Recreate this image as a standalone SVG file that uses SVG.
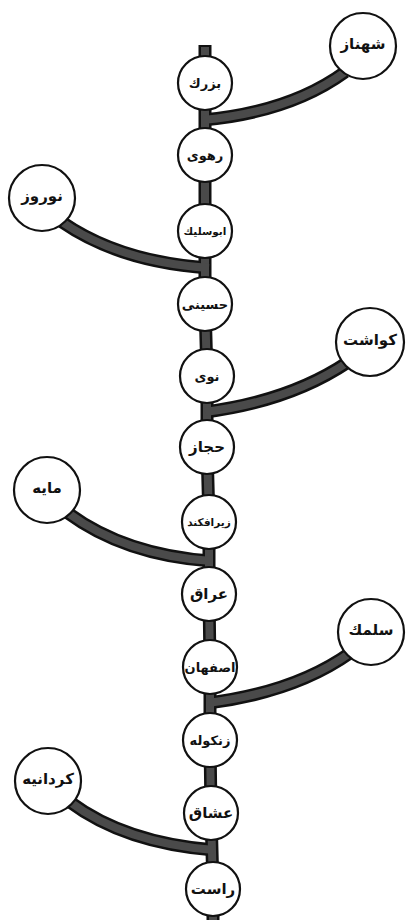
<svg xmlns="http://www.w3.org/2000/svg" width="406" height="920" viewBox="0 0 406 920">
<style>
.n{fill:#fff;stroke:#111;stroke-width:2.2}
.t{font-family:"DejaVu Sans","Noto Sans",sans-serif;font-weight:bold;fill:#111;text-anchor:middle;dominant-baseline:central}
.s{font-size:13px}
.xs{font-size:10.5px}
.l{font-size:15px}
.c{fill:none;stroke:#111;stroke-width:13;stroke-linecap:butt}
.ci{fill:none;stroke:#4a4a4a;stroke-width:8;stroke-linecap:butt}
</style>
<rect width="406" height="920" fill="#fff"/>
<g id="connectors">
<path class="c" d="M205,45 L205,304 L207,376 L207,447 L209,522 L209,594 L210,667 L210,740 L211,813 L213,889 L213,920"/>
<path class="c" d="M203,120 Q290,112 345,72"/>
<path class="c" d="M62,222 Q120,262 209,268"/>
<path class="c" d="M205,412 Q290,401 348,362"/>
<path class="c" d="M68,513 Q125,555 211,561"/>
<path class="c" d="M208,703 Q295,692 350,653"/>
<path class="c" d="M70,802 Q125,843 214,850"/>
<path class="ci" d="M205,47 L205,304 L207,376 L207,447 L209,522 L209,594 L210,667 L210,740 L211,813 L213,889 L213,920"/>
<path class="ci" d="M203,120 Q290,112 345,72"/>
<path class="ci" d="M62,222 Q120,262 209,268"/>
<path class="ci" d="M205,412 Q290,401 348,362"/>
<path class="ci" d="M68,513 Q125,555 211,561"/>
<path class="ci" d="M208,703 Q295,692 350,653"/>
<path class="ci" d="M70,802 Q125,843 214,850"/>
</g>
<g id="bozorg"><circle class="n" cx="205" cy="83" r="27"/><text class="t s" x="205" y="83">بزرك</text></g>
<g id="rahavi"><circle class="n" cx="205" cy="155" r="27"/><text class="t s" x="205" y="155">رهوی</text></g>
<g id="abusalik"><circle class="n" cx="205" cy="231" r="27"/><text class="t xs" x="205" y="231">ابوسليك</text></g>
<g id="hoseyni"><circle class="n" cx="205" cy="304" r="27"/><text class="t s" x="205" y="304">حسينى</text></g>
<g id="navi"><circle class="n" cx="207" cy="376" r="27"/><text class="t s" x="207" y="376">نوى</text></g>
<g id="hejaz"><circle class="n" cx="207" cy="447" r="27"/><text class="t l" x="207" y="447">حجاز</text></g>
<g id="zirafkand"><circle class="n" cx="209" cy="522" r="27"/><text class="t xs" x="209" y="522">زيرافكند</text></g>
<g id="eraq"><circle class="n" cx="209" cy="594" r="27"/><text class="t l" x="209" y="594">عراق</text></g>
<g id="esfahan"><circle class="n" cx="210" cy="667" r="27"/><text class="t s" x="210" y="667">اصفهان</text></g>
<g id="zangule"><circle class="n" cx="210" cy="740" r="27"/><text class="t s" x="210" y="740">زنكوله</text></g>
<g id="oshshaq"><circle class="n" cx="211" cy="813" r="27"/><text class="t l" x="211" y="813">عشاق</text></g>
<g id="rast"><circle class="n" cx="213" cy="889" r="27"/><text class="t l" x="213" y="889">راست</text></g>
<g id="shahnaz"><circle class="n" cx="363" cy="46" r="33"/><text class="t l" x="363" y="44">شهناز</text></g>
<g id="nowruz"><circle class="n" cx="42" cy="198" r="33"/><text class="t l" x="42" y="196">نوروز</text></g>
<g id="gavasht"><circle class="n" cx="370" cy="342" r="34"/><text class="t l" x="370" y="340">كواشت</text></g>
<g id="maye"><circle class="n" cx="47" cy="490" r="33"/><text class="t l" x="47" y="488">مايه</text></g>
<g id="salmak"><circle class="n" cx="371" cy="632" r="33"/><text class="t l" x="371" y="630">سلمك</text></g>
<g id="gardaniye"><circle class="n" cx="48" cy="781" r="33"/><text class="t l" x="48" y="779">كردانيه</text></g>
</svg>
